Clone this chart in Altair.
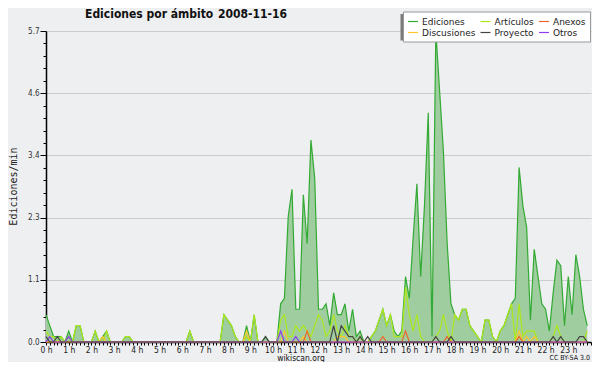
import altair as alt
import pandas as pd

FONT = "DejaVu Sans Condensed, DejaVu Sans"
LEGEND_FONT = "DejaVu Sans"
MONO = "DejaVu Sans Mono"

# legend reads row by row: Ediciones, Artículos, Anexos / Discusiones, Proyecto, Otros
# (Vega fills legend columns top-to-bottom, so the domain is listed column by column)
LEGEND_ORDER = ["Ediciones", "Discusiones", "Artículos", "Proyecto", "Anexos", "Otros"]
LEGEND_COLORS = ["#33aa33", "#ffc62a", "#aee81c", "#444444", "#ee6628", "#8c3cf0"]
DRAW_ORDER = ["Ediciones", "Artículos", "Discusiones", "Anexos", "Otros", "Proyecto"]

TITLE_LEFT = "Ediciones por ámbito"
TITLE_DATE = "2008-11-16"
Y_TITLE = "Ediciones/min"
FOOTER = "wikiscan.org"
LICENSE = "CC BY-SA 3.0"

# edits per minute, 10-minute bins (6 per hour)
ediciones = [
    0.5, 0.3, 0.1, 0.1, 0.1, 0.0,   # 0 h
    0.2, 0.0, 0.3, 0.3, 0.0, 0.0,   # 1 h
    0.0, 0.2, 0.0, 0.1, 0.2, 0.0,   # 2 h
    0.0, 0.0, 0.0, 0.1, 0.1, 0.0,   # 3 h
    0.0, 0.0, 0.0, 0.0, 0.0, 0.0,   # 4 h
    0.0, 0.0, 0.0, 0.0, 0.0, 0.0,   # 5 h
    0.0, 0.0, 0.2, 0.0, 0.0, 0.0,   # 6 h
    0.0, 0.0, 0.0, 0.0, 0.0, 0.5,   # 7 h
    0.4, 0.3, 0.1, 0.0, 0.0, 0.3,   # 8 h
    0.0, 0.5, 0.0, 0.0, 0.1, 0.0,   # 9 h
    0.0, 0.0, 0.7, 0.8, 2.3, 2.8,   # 10 h
    0.6, 0.6, 2.7, 1.8, 3.7, 3.0,   # 11 h
    0.6, 0.6, 0.7, 0.3, 0.9, 0.5,   # 12 h
    0.5, 0.7, 0.2, 0.6, 0.1, 0.2,   # 13 h
    0.0, 0.0, 0.1, 0.2, 0.4, 0.6,   # 14 h
    0.3, 0.5, 0.2, 0.1, 0.2, 1.2,   # 15 h
    0.8, 1.9, 2.9, 1.2, 2.5, 4.2,   # 16 h
    0.1, 5.7, 4.6, 3.5, 1.8, 0.7,   # 17 h
    0.5, 0.4, 0.6, 0.6, 0.3, 0.2,   # 18 h
    0.1, 0.0, 0.4, 0.4, 0.1, 0.0,   # 19 h
    0.2, 0.3, 0.5, 0.7, 0.8, 3.2,   # 20 h
    2.5, 2.1, 0.4, 1.7, 1.2, 0.7,   # 21 h
    0.6, 0.2, 0.9, 1.5, 1.4, 0.3,   # 22 h
    1.2, 0.5, 1.6, 1.2, 0.6, 0.3,   # 23 h
]

articulos = [
    0.2, 0.1, 0.1, 0.0, 0.1, 0.0,   # 0 h
    0.1, 0.0, 0.3, 0.3, 0.0, 0.0,   # 1 h
    0.0, 0.2, 0.0, 0.0, 0.2, 0.0,   # 2 h
    0.0, 0.0, 0.0, 0.1, 0.1, 0.0,   # 3 h
    0.0, 0.0, 0.0, 0.0, 0.0, 0.0,   # 4 h
    0.0, 0.0, 0.0, 0.0, 0.0, 0.0,   # 5 h
    0.0, 0.0, 0.2, 0.0, 0.0, 0.0,   # 6 h
    0.0, 0.0, 0.0, 0.0, 0.0, 0.5,   # 7 h
    0.4, 0.3, 0.1, 0.0, 0.0, 0.1,   # 8 h
    0.0, 0.5, 0.0, 0.0, 0.0, 0.0,   # 9 h
    0.0, 0.0, 0.4, 0.5, 0.1, 0.1,   # 10 h
    0.3, 0.2, 0.3, 0.2, 0.1, 0.3,   # 11 h
    0.5, 0.4, 0.1, 0.2, 0.5, 0.2,   # 12 h
    0.1, 0.3, 0.1, 0.1, 0.0, 0.1,   # 13 h
    0.0, 0.0, 0.1, 0.2, 0.4, 0.6,   # 14 h
    0.3, 0.5, 0.1, 0.1, 0.1, 1.0,   # 15 h
    0.5, 0.2, 0.5, 0.1, 0.0, 0.0,   # 16 h
    0.0, 0.1, 0.2, 0.5, 0.2, 0.0,   # 17 h
    0.5, 0.4, 0.6, 0.6, 0.3, 0.2,   # 18 h
    0.1, 0.0, 0.4, 0.4, 0.1, 0.0,   # 19 h
    0.2, 0.3, 0.5, 0.7, 0.0, 0.7,   # 20 h
    0.1, 0.2, 0.2, 0.2, 0.0, 0.0,   # 21 h
    0.0, 0.0, 0.1, 0.3, 0.1, 0.0,   # 22 h
    0.0, 0.0, 0.0, 0.0, 0.0, 0.2,   # 23 h
]

anexos = [
    0, 0, 0, 0, 0, 0,   # 0 h
    0, 0, 0, 0, 0, 0,   # 1 h
    0, 0, 0, 0, 0, 0,   # 2 h
    0, 0, 0, 0, 0, 0,   # 3 h
    0, 0, 0, 0, 0, 0,   # 4 h
    0, 0, 0, 0, 0, 0,   # 5 h
    0, 0, 0, 0, 0, 0,   # 6 h
    0, 0, 0, 0, 0, 0,   # 7 h
    0, 0, 0, 0, 0, 0,   # 8 h
    0, 0, 0, 0, 0, 0,   # 9 h
    0, 0, 0, 0, 0, 0,   # 10 h
    0, 0, 0, 0.2, 0, 0,   # 11 h
    0, 0, 0, 0, 0, 0,   # 12 h
    0, 0, 0, 0, 0, 0,   # 13 h
    0, 0, 0, 0, 0, 0.1,   # 14 h
    0, 0, 0, 0, 0, 0.2,   # 15 h
    0, 0, 0, 0, 0, 0,   # 16 h
    0, 0, 0, 0, 0.1, 0,   # 17 h
    0, 0, 0, 0, 0, 0,   # 18 h
    0, 0, 0, 0, 0, 0,   # 19 h
    0, 0, 0, 0, 0, 0.1,   # 20 h
    0, 0, 0, 0, 0, 0,   # 21 h
    0, 0, 0, 0, 0, 0,   # 22 h
    0, 0, 0, 0, 0, 0,   # 23 h
]

discusiones = [
    0, 0, 0, 0, 0, 0,   # 0 h
    0, 0, 0, 0, 0, 0,   # 1 h
    0, 0, 0, 0.1, 0, 0,   # 2 h
    0, 0, 0, 0, 0, 0,   # 3 h
    0, 0, 0, 0, 0, 0,   # 4 h
    0, 0, 0, 0, 0, 0,   # 5 h
    0, 0, 0, 0, 0, 0,   # 6 h
    0, 0, 0, 0, 0, 0,   # 7 h
    0, 0, 0, 0, 0, 0.2,   # 8 h
    0, 0, 0, 0, 0, 0,   # 9 h
    0, 0, 0, 0.2, 0, 0,   # 10 h
    0, 0, 0.1, 0, 0, 0,   # 11 h
    0, 0, 0, 0, 0, 0.1,   # 12 h
    0.1, 0.1, 0, 0, 0, 0,   # 13 h
    0, 0, 0, 0, 0, 0,   # 14 h
    0, 0, 0, 0, 0, 0,   # 15 h
    0, 0, 0, 0, 0, 0,   # 16 h
    0, 0, 0, 0, 0, 0,   # 17 h
    0, 0, 0, 0, 0, 0,   # 18 h
    0, 0, 0, 0, 0, 0,   # 19 h
    0, 0, 0, 0, 0, 0.2,   # 20 h
    0, 0.1, 0, 0.1, 0, 0,   # 21 h
    0, 0, 0, 0, 0, 0,   # 22 h
    0, 0, 0, 0, 0, 0,   # 23 h
]

proyecto = [
    0.1, 0, 0, 0.1, 0, 0,   # 0 h
    0, 0, 0, 0, 0, 0,   # 1 h
    0, 0, 0, 0, 0, 0,   # 2 h
    0, 0, 0, 0, 0, 0,   # 3 h
    0, 0, 0, 0, 0, 0,   # 4 h
    0, 0, 0, 0, 0, 0,   # 5 h
    0, 0, 0, 0, 0, 0,   # 6 h
    0, 0, 0, 0, 0, 0,   # 7 h
    0, 0, 0, 0, 0, 0,   # 8 h
    0, 0, 0, 0, 0.1, 0,   # 9 h
    0, 0, 0, 0, 0, 0,   # 10 h
    0, 0, 0, 0, 0, 0,   # 11 h
    0, 0, 0, 0, 0.3, 0,   # 12 h
    0.3, 0.2, 0.1, 0.1, 0, 0.1,   # 13 h
    0, 0.1, 0, 0, 0, 0,   # 14 h
    0, 0, 0, 0, 0, 0,   # 15 h
    0, 0, 0, 0, 0, 0,   # 16 h
    0, 0.1, 0, 0, 0, 0.1,   # 17 h
    0, 0, 0, 0, 0, 0,   # 18 h
    0, 0, 0, 0, 0, 0,   # 19 h
    0, 0, 0, 0, 0, 0,   # 20 h
    0, 0, 0, 0, 0, 0,   # 21 h
    0, 0, 0.1, 0, 0.1, 0,   # 22 h
    0, 0, 0, 0.1, 0.1, 0,   # 23 h
]

otros = [
    0, 0.1, 0, 0, 0, 0,   # 0 h
    0.1, 0, 0, 0, 0, 0,   # 1 h
    0, 0, 0, 0, 0, 0,   # 2 h
    0, 0, 0, 0, 0, 0,   # 3 h
    0, 0, 0, 0, 0, 0,   # 4 h
    0, 0, 0, 0, 0, 0,   # 5 h
    0, 0, 0, 0, 0, 0,   # 6 h
    0, 0, 0, 0, 0, 0,   # 7 h
    0, 0, 0, 0, 0, 0,   # 8 h
    0, 0, 0, 0, 0, 0,   # 9 h
    0, 0, 0.2, 0, 0, 0,   # 10 h
    0.1, 0, 0, 0, 0, 0,   # 11 h
    0, 0, 0, 0, 0, 0,   # 12 h
    0, 0, 0, 0, 0, 0,   # 13 h
    0, 0, 0, 0, 0, 0,   # 14 h
    0, 0, 0, 0, 0, 0,   # 15 h
    0, 0, 0, 0, 0, 0,   # 16 h
    0, 0, 0, 0, 0, 0,   # 17 h
    0, 0, 0, 0, 0, 0,   # 18 h
    0, 0, 0, 0, 0, 0,   # 19 h
    0, 0, 0, 0, 0, 0,   # 20 h
    0, 0, 0, 0, 0, 0,   # 21 h
    0, 0, 0, 0, 0, 0,   # 22 h
    0, 0, 0, 0, 0, 0,   # 23 h
]

SERIES_DATA = {
    "Ediciones": ediciones,
    "Artículos": articulos,
    "Anexos": anexos,
    "Discusiones": discusiones,
    "Proyecto": proyecto,
    "Otros": otros,
}

Y_TICKS = [round(k * 0.228, 3) for k in range(26)]
X_TICKS = [k / 6 for k in range(145)]

rows = []
for name, vals in SERIES_DATA.items():
    for i, v in enumerate(vals):
        rows.append({"t": i / 6, "v": v, "series": name})
df = pd.DataFrame(rows)

MAJ_Y = "abs(datum.value/1.14 - round(datum.value/1.14)) < 0.01"

PLOT_W, PLOT_H = 545, 311

x_axis = alt.Axis(
    values=X_TICKS,
    labelExpr="abs(datum.value - round(datum.value)) < 0.01 && datum.value < 23.9 ? round(datum.value) + ' h' : ''",
    labelOverlap=False, labelBound=False, labelFlush=False,
    grid=False, tickSize=3, tickColor="black", tickWidth=1,
    domainColor="black", domainWidth=1.5,
    labelFont=FONT, labelFontSize=8.5, labelPadding=0, labelColor="#222",
    title=None,
)
y_axis = alt.Axis(
    values=Y_TICKS,
    labelExpr=MAJ_Y + " ? format(datum.value, '.1f') : ''",
    labelOverlap=False, labelBound=False, labelFlush=False,
    grid=True, gridColor="#cccccc", gridWidth=1,
    gridOpacity={"condition": {"test": MAJ_Y, "value": 1}, "value": 0},
    tickSize={"condition": {"test": MAJ_Y, "value": 6}, "value": 3},
    tickColor="black", tickWidth=1,
    domainColor="black", domainWidth=1.5,
    labelFont=FONT, labelFontSize=8, labelPadding=1, labelColor="#333",
    title=Y_TITLE, titleFont=MONO, titleFontSize=10, titleFontWeight="normal",
    titleColor="#222", titleAngle=270, titleX=-33, titleY=155,
    titleBaseline="middle", titleAlign="center",
)

xs = alt.Scale(domain=[0, 24], nice=False, zero=False)
ys = alt.Scale(domain=[0, 5.7], nice=False)

X = alt.X("t:Q", scale=xs, axis=x_axis)
Y = alt.Y("v:Q", scale=ys, axis=y_axis)

color_enc = alt.Color(
    "series:N",
    scale=alt.Scale(domain=LEGEND_ORDER, range=LEGEND_COLORS),
    legend=alt.Legend(
        title=None, orient="none", legendX=357, legendY=-19.5, columns=3,
        symbolType="stroke", symbolSize=100, symbolStrokeWidth=1.2,
        labelFont=LEGEND_FONT, labelFontSize=9, labelColor="#222", labelOffset=3,
        fillColor="white", strokeColor="#999999", padding=4,
        rowPadding=-3, columnPadding=1.5,
    ),
)

area = alt.Chart(df).transform_filter(alt.datum.series == "Ediciones").mark_area(
    color="#9fcd9f", opacity=1, interpolate="linear"
).encode(x=X, y=Y)

lines = [
    alt.Chart(df).transform_filter(alt.datum.series == s).mark_line(
        strokeWidth=1.2, interpolate="linear"
    ).encode(x=X, y=Y, color=color_enc)
    for s in DRAW_ORDER
]

one = pd.DataFrame({"k": [0]})
shadow = alt.Chart(one).mark_rect(color="#7a7a7a").encode(
    x=alt.value(354.5), x2=alt.value(543.5), y=alt.value(-17), y2=alt.value(9.5)
)

def label(text, x, y, size, weight="normal", align="left", font=FONT):
    return alt.Chart(pd.DataFrame({"label": [text]})).mark_text(
        font=font, fontSize=size, fontWeight=weight, align=align,
        baseline="middle", color="#111"
    ).encode(text="label:N", x=alt.value(x), y=alt.value(y))

texts = [
    label(TITLE_LEFT, 39, -17, 12, "bold"),
    label(TITLE_DATE, 172, -17, 12, "bold"),
    label(FOOTER, 255, PLOT_H + 16, 8.5, align="center"),
    label(LICENSE, 544, PLOT_H + 16, 7, align="right"),
]

chart = alt.layer(area, *lines, shadow, *texts).properties(
    width=PLOT_W, height=PLOT_H,
    padding={"left": 38, "top": 23, "right": 1, "bottom": 20},
    autosize=alt.AutoSizeParams(type="none"),
    background="#eeeff1",
).configure_view(stroke=None)

chart.save("out.html", embed_options={"renderer": "svg", "actions": False})
